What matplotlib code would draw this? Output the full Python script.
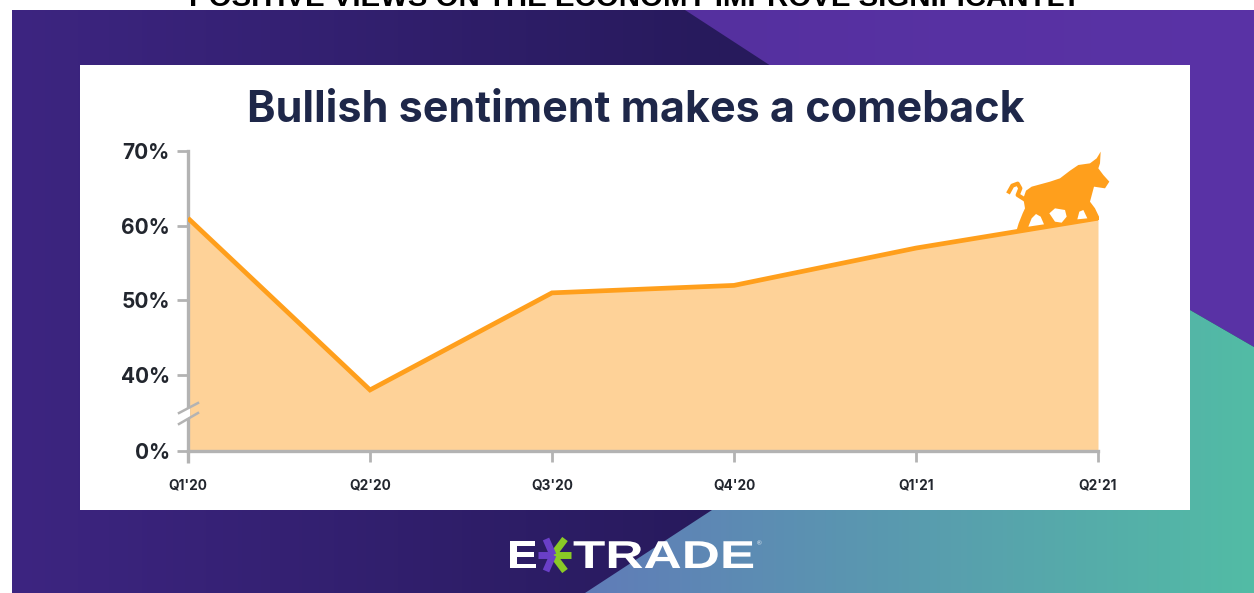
import numpy as np
import matplotlib
matplotlib.use("Agg")
from matplotlib import pyplot as plt
from matplotlib.patches import Polygon, Rectangle
from matplotlib.patheffects import AbstractPathEffect
from matplotlib.transforms import Affine2D

quarters = ["Q1'20", "Q2'20", "Q3'20", "Q4'20", "Q1'21", "Q2'21"]
bullish = [61, 38, 51, 52, 57, 61]
y_ticks = [0, 40, 50, 60, 70]
y_labels = ["0%", "40%", "50%", "60%", "70%"]

W, H = 1254, 593
NAVY = "#1e2749"
ORANGE = "#ff9f1c"
GREY = "#b3b3b3"
FONT = "Inter"


class StretchX(AbstractPathEffect):
    # widen glyphs around a fixed x, the logo lettering is extended
    def __init__(self, x0, sx):
        super().__init__()
        self.x0, self.sx = x0, sx

    def draw_path(self, renderer, gc, tpath, affine, rgbFace=None):
        stretch = Affine2D().translate(-self.x0, 0).scale(self.sx, 1).translate(self.x0, 0)
        renderer.draw_path(gc, tpath, affine + stretch, rgbFace)


def gradient(ax, poly, left, right, x0, x1, zorder):
    # horizontal colour ramp clipped to a polygon
    c0, c1 = np.array(matplotlib.colors.to_rgb(left)), np.array(matplotlib.colors.to_rgb(right))
    t = np.linspace(0, 1, 256)[None, :, None]
    im = ax.imshow(c0 + (c1 - c0) * t, extent=(x0, x1, H, 0), aspect="auto", zorder=zorder)
    patch = Polygon(poly, closed=True, transform=ax.transData, facecolor="none", edgecolor="none")
    ax.add_patch(patch)
    im.set_clip_path(patch)


fig = plt.figure(figsize=(W / 100, H / 100), dpi=100, facecolor="white")

# Backdrop in pixel coordinates
bg = fig.add_axes([0, 0, 1, 1])
bg.set_xlim(0, W)
bg.set_ylim(H, 0)
bg.axis("off")

bg.text(635, 6, "POSITIVE VIEWS ON THE ECONOMY IMPROVE SIGNIFICANTLY", family="Liberation Sans",
        weight="bold", fontsize=21.2, color="black", ha="center", va="baseline", zorder=0)

gradient(bg, [(12, 10), (720, 10), (720, H), (12, H)], "#3d2581", "#271a5c", 12, 720, 1)
bg.add_patch(Polygon([(720, 10), (W, 10), (W, H), (720, H)], facecolor="#271a5c", edgecolor="none", zorder=1))
gradient(bg, [(685, 10), (W, 10), (W, 347), (1190, 310), (900, 150)], "#55309f", "#5a33a6", 685, W, 2)
gradient(bg, [(585, H), (712, 510), (1190, 310), (W, 347), (W, H)], "#607cb8", "#52bca5", 585, W, 3)

bg.add_patch(Rectangle((80, 65), 1110, 445, facecolor="white", edgecolor="none", zorder=4))

bg.text(636, 111, "Bullish sentiment makes a comeback", family=FONT, weight="bold", fontsize=31,
        color=NAVY, ha="center", va="center", zorder=5)

# Logo
bg.text(507, 568, "E", family="Liberation Sans", weight="bold", fontsize=28, color="white",
        va="baseline", zorder=5, path_effects=[StretchX(507, 1.2)])
bg.text(573, 568, "TRADE", family="Liberation Sans", weight="bold", fontsize=28, color="white",
        va="baseline", zorder=5, path_effects=[StretchX(573, 1.36)])
bg.text(759, 544, "®", family="Liberation Sans", fontsize=4.5, color="white", ha="center", va="center", zorder=5)
for dx, dy, col in [(12, -16, "#8ac926"), (12, 16, "#8ac926"), (18, 0, "#8ac926"),
                    (-7, -16, "#6a3fc8"), (-7, 16, "#6a3fc8"), (-15, 0, "#6a3fc8")]:
    bg.plot([553, 553 + dx], [555, 555 + dy], color=col, lw=5, solid_capstyle="butt", zorder=5)

# Chart area, the axis is broken between 0% and 40%
px_in = [0, 30, 40, 70]
px_out = [0, 1.3, 76, 300]


def to_px(v):
    return np.interp(v, px_in, px_out)


def from_px(v):
    return np.interp(v, px_out, px_in)


ax = fig.add_axes([188 / W, 1 - 451 / H, (1098 - 188) / W, 300 / H])
ax.patch.set_alpha(0)
ax.set_yscale("function", functions=(to_px, from_px))
x = np.arange(len(quarters))
ax.fill_between(x, bullish, 0, color="#fed298", lw=0, zorder=1)
ax.plot(x, bullish, color=ORANGE, lw=3.4, solid_joinstyle="miter", solid_capstyle="butt", zorder=3)
ax.set_xlim(0, 5)
ax.set_ylim(0, 70)
ax.set_xticks(x, quarters)
ax.set_yticks(y_ticks, y_labels)
ax.minorticks_off()
for side in ["top", "right"]:
    ax.spines[side].set_visible(False)
for side in ["left", "bottom"]:
    ax.spines[side].set_color(GREY)
    ax.spines[side].set_linewidth(2.4)
ax.tick_params(axis="y", length=8, width=2, color=GREY, pad=5, labelsize=15, labelcolor="#22262e")
ax.tick_params(axis="x", length=8, width=2, color=GREY, pad=12, labelsize=9.8, labelcolor="#22262e")
for lab in ax.get_yticklabels() + ax.get_xticklabels():
    lab.set_family(FONT)
    lab.set_weight("bold")

# Overlay on top of the chart: axis break and bull
top = fig.add_axes([0, 0, 1, 1])
top.set_xlim(0, W)
top.set_ylim(H, 0)
top.axis("off")
top.add_patch(Polygon([(186, 409), (190, 407), (190, 417), (186, 419)], facecolor="white", edgecolor="none", zorder=1))
top.plot([179, 198], [413, 403], color=GREY, lw=1.8, zorder=2)
top.plot([179, 198], [424, 413], color=GREY, lw=1.8, zorder=2)
top.plot([188, 188], [451, 463], color=GREY, lw=2.4, zorder=2, solid_capstyle="butt")


def bull(points):
    return [(950 + px / 3, 130 + py / 3) for px, py in points]


body = [(200, 300), (206, 280), (218, 250), (225, 235), (220, 205), (228, 182), (245, 170), (300, 155),
        (330, 145), (360, 122), (385, 105), (420, 100), (440, 85), (452, 65), (450, 100), (445, 115),
        (460, 135), (478, 155), (465, 175), (432, 170), (420, 215), (435, 235), (447, 260), (447, 270)]
gaps = [[(235, 290), (245, 265), (258, 252), (272, 260), (282, 283)],
        [(298, 250), (315, 235), (345, 240), (350, 260), (335, 278), (315, 275)],
        [(382, 268), (388, 245), (400, 240), (412, 265)]]
tail = [(177, 185), (187, 167), (203, 161), (211, 175), (203, 195), (222, 207)]
top.add_patch(Polygon(bull(body), facecolor=ORANGE, edgecolor="none", zorder=3))
for gap in gaps:
    top.add_patch(Polygon(bull(gap), facecolor="white", edgecolor="none", zorder=4))
tx, ty = zip(*bull(tail))
top.plot(tx, ty, color=ORANGE, lw=3, zorder=3)

fig.savefig("out.png", dpi=100)
